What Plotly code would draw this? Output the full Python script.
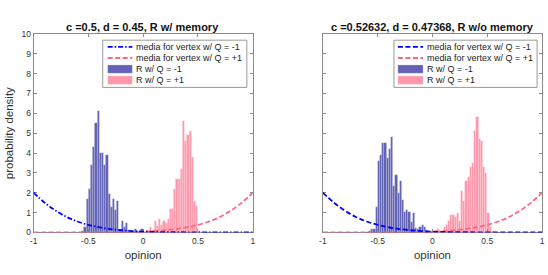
import plotly.graph_objects as go

BIN = 0.02

# Left panel (R w/ memory)
left_blue_start = -0.58
left_blue = [0.05, 0.1, 0.3, 1.7, 2.2, 3.4, 4.3, 5.5, 6.1, 4.0, 4.0, 3.4, 3.9, 1.95, 1.3,
             1.7, 1.15, 1.6, 0.1, 0.6, 0.3, 0.5, 0.15, 0.05, 0.1, 0.2, 0.1, 0.05, 0.2, 0.05]
left_pink_start = 0.0
left_pink = [0.05, 0.1, 0.1, 0.3, 0.15, 0.6, 0.35, 0.7, 0.36, 0.6, 0.5, 0.7, 1.2, 1.2,
             2.2, 2.7, 2.7, 3.2, 5.6, 4.6, 4.9, 5.1, 3.8, 1.6, 1.35, 0.1, 0.05]

# Right panel (R w/o memory)
right_blue_start = -0.60
right_blue = [0.05, 0.1, 0.2, 0.2, 1.3, 3.6, 3.9, 4.5, 4.5, 3.75, 4.2, 4.8, 2.35, 2.9, 2.0,
              2.6, 1.65, 1.05, 1.15, 1.05, 0.55, 0.97, 0.25, 0.2, 0.3, 0.4, 0.3, 0.15, 0.05, 0.05]
right_pink_start = 0.0
right_pink = [0.05, 0.1, 0.2, 0.1, 0.05, 0.3, 0.4, 0.6, 0.9, 0.9, 0.8, 1.0, 0.6, 2.1, 1.6,
              2.6, 2.8, 3.3, 3.5, 5.1, 5.8, 4.7, 4.6, 3.3, 3.0, 1.0, 0.3, 0.1, 0.05]

# media curves
curve_x = [-1.0, -0.9, -0.8, -0.7, -0.6, -0.5, -0.4, -0.3, -0.2, -0.1, 0.0,
           0.1, 0.2, 0.3, 0.4, 0.5, 0.6, 0.7, 0.8, 0.9, 1.0]
media_neg = [2.0, 1.5, 1.1, 0.78, 0.55, 0.38, 0.26, 0.17, 0.11, 0.07, 0.04,
             0.025, 0.015, 0.01, 0.005, 0.0, 0.0, 0.0, 0.0, 0.0, 0.0]
media_pos = [0.0, 0.0, 0.0, 0.0, 0.0, 0.0, 0.005, 0.01, 0.015, 0.025, 0.04,
             0.07, 0.11, 0.17, 0.26, 0.38, 0.55, 0.78, 1.1, 1.5, 2.0]

titles = ["c =0.5, d = 0.45, R w/ memory", "c =0.52632, d = 0.47368, R w/o memory"]
legend_labels = ["media for vertex w/ Q = -1", "media for vertex w/ Q = +1", "R w/ Q = -1", "R w/ Q = +1"]
x_ticks = [-1, -0.5, 0, 0.5, 1]
x_tick_labels = ["-1", "-0.5", "0", "0.5", "1"]
y_ticks = list(range(0, 11))

BLUE_LINE = "#0000ff"
PINK_LINE = "#ff6680"
BLUE_BAR = "rgba(30,30,150,0.7)"
PINK_BAR = "rgba(255,80,115,0.6)"
EDGE = "rgba(255,255,255,0.45)"
DASH = "5px,2.5px"
DASHDOT = "5px,2px,1.5px,2px"
FONT = "Liberation Sans, Arial, Helvetica, sans-serif"
W, H = 548, 275

def centers(start, vals):
    return [round(start + BIN * (i + 0.5), 4) for i in range(len(vals))]

fig = go.Figure()
panels = [
    ("x", "y", left_blue_start, left_blue, left_pink_start, left_pink, DASHDOT),
    ("x2", "y2", right_blue_start, right_blue, right_pink_start, right_pink, DASH),
]
for xa, ya, bs, bv, ps, pv, bdash in panels:
    fig.add_trace(go.Bar(x=centers(bs, bv), y=bv, width=BIN, xaxis=xa, yaxis=ya,
                         marker=dict(color=BLUE_BAR, line=dict(color=EDGE, width=0.5)),
                         name=legend_labels[2], showlegend=False))
    fig.add_trace(go.Bar(x=centers(ps, pv), y=pv, width=BIN, xaxis=xa, yaxis=ya,
                         marker=dict(color=PINK_BAR, line=dict(color=EDGE, width=0.5)),
                         name=legend_labels[3], showlegend=False))
    fig.add_trace(go.Scatter(x=curve_x, y=media_pos, mode="lines", xaxis=xa, yaxis=ya,
                             line=dict(color=PINK_LINE, width=1.8, dash=DASH, shape="spline"),
                             name=legend_labels[1], showlegend=False, cliponaxis=False))
    fig.add_trace(go.Scatter(x=curve_x, y=media_neg, mode="lines", xaxis=xa, yaxis=ya,
                             line=dict(color=BLUE_LINE, width=1.8, dash=bdash, shape="spline"),
                             name=legend_labels[0], showlegend=False, cliponaxis=False))

ydom = [(H - 236) / H, (H - 30) / H]
TXT = "#333333"
axis_common = dict(showline=True, linecolor="#8a8a8a", linewidth=1, mirror="ticks",
                   ticks="inside", ticklen=3, tickcolor="#8a8a8a", showgrid=False, zeroline=False,
                   layer="below traces",
                   tickfont=dict(size=8.5, color=TXT, family=FONT))
xcommon = dict(axis_common, range=[-1, 1], tickvals=x_ticks, ticktext=x_tick_labels,
               title=dict(text="opinion", font=dict(size=11.5, color=TXT, family=FONT), standoff=6))
ycommon = dict(axis_common, range=[0, 10], tickvals=y_ticks)

def px(x):
    return x / W

def py(y):
    return 1 - y / H

shapes = []
annotations = []
legend_boxes = [
    (100, 246, 105, 130, 132, DASHDOT),
    (395, 540, 399, 424.5, 426.5, DASH),
]
rows = [43.5, 55, 66.5, 78]
for bl, br, sx0, sx1, tx, bdash in legend_boxes:
    shapes.append(dict(type="rect", xref="paper", yref="paper", x0=px(bl), x1=px(br), y0=py(36.5), y1=py(85.5),
                       line=dict(color="#9a9a9a", width=1), fillcolor="white", layer="above"))
    shapes.append(dict(type="line", xref="paper", yref="paper", x0=px(sx0), x1=px(sx1), y0=py(rows[0]), y1=py(rows[0]),
                       line=dict(color=BLUE_LINE, width=1.8, dash=bdash), layer="above"))
    shapes.append(dict(type="line", xref="paper", yref="paper", x0=px(sx0), x1=px(sx1), y0=py(rows[1]), y1=py(rows[1]),
                       line=dict(color=PINK_LINE, width=1.8, dash=DASH), layer="above"))
    shapes.append(dict(type="rect", xref="paper", yref="paper", x0=px(sx0), x1=px(sx1), y0=py(rows[2] - 4.3), y1=py(rows[2] + 4.3),
                       line=dict(color=EDGE, width=0.5), fillcolor=BLUE_BAR, layer="above"))
    shapes.append(dict(type="rect", xref="paper", yref="paper", x0=px(sx0), x1=px(sx1), y0=py(rows[3] - 4.3), y1=py(rows[3] + 4.3),
                       line=dict(color=EDGE, width=0.5), fillcolor=PINK_BAR, layer="above"))
    for r, lab in zip(rows, legend_labels):
        annotations.append(dict(text=lab, x=px(tx), y=py(r), xref="paper", yref="paper", showarrow=False,
                                xanchor="left", yanchor="middle", font=dict(size=9, color="#222222", family=FONT)))

annotations.append(dict(text="<b>" + titles[0] + "</b>", x=px(140), y=py(23), xref="paper", yref="paper",
                        showarrow=False, font=dict(size=11, color="#111111", family=FONT),
                        xanchor="center", yanchor="middle"))
annotations.append(dict(text="<b>" + titles[1] + "</b>", x=px(434), y=py(23), xref="paper", yref="paper",
                        showarrow=False, font=dict(size=11, color="#111111", family=FONT),
                        xanchor="center", yanchor="middle"))

fig.update_layout(
    width=W, height=H, margin=dict(l=0, r=0, t=0, b=0),
    paper_bgcolor="white", plot_bgcolor="white", barmode="overlay", bargap=0,
    font=dict(family=FONT), showlegend=False,
    xaxis=dict(xcommon, domain=[30 / W, 252 / W], anchor="y"),
    yaxis=dict(ycommon, domain=ydom, anchor="x",
               title=dict(text="probability density", font=dict(size=11.5, color=TXT, family=FONT), standoff=5)),
    xaxis2=dict(xcommon, domain=[323 / W, 545 / W], anchor="y2"),
    yaxis2=dict(ycommon, domain=ydom, anchor="x2", showticklabels=False),
    shapes=shapes,
    annotations=annotations,
)

fig.write_html("out.html", config={"displayModeBar": False},
               post_script="document.body.style.margin='0';document.body.style.padding='0';"
                           "document.documentElement.style.overflow='hidden';")
